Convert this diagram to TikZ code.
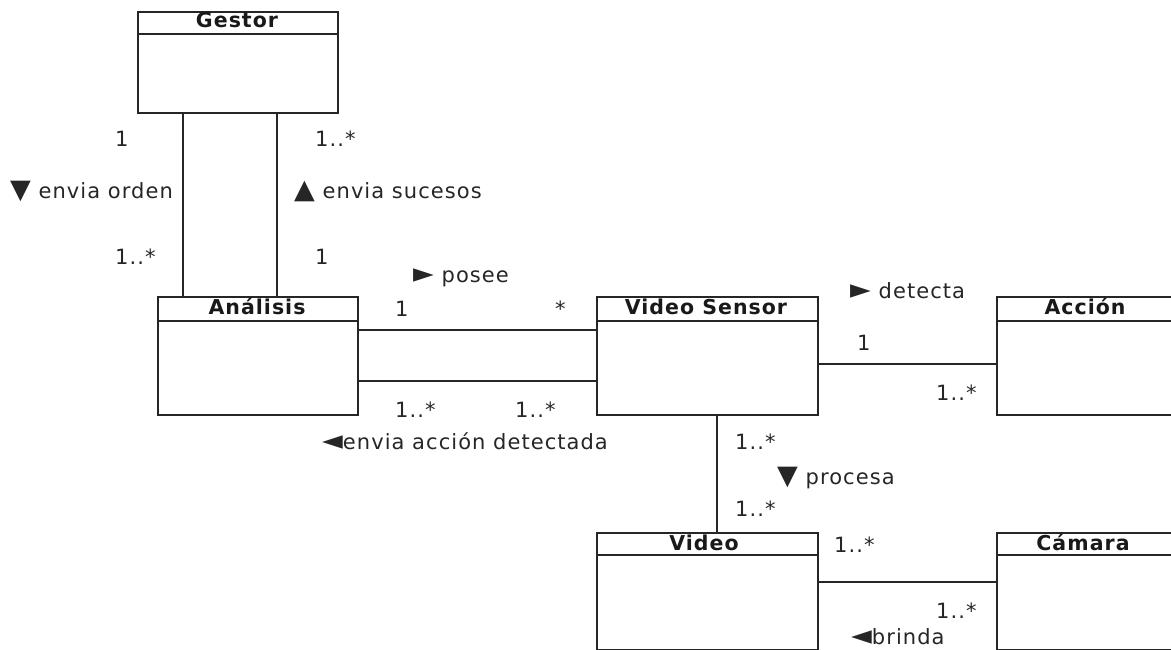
\documentclass[tikz,border=0pt]{standalone}
\usepackage{fontspec}
\setmainfont{DejaVu Sans}[LetterSpace=5]
\newcommand\bigtri[1]{{\fontsize{27}{27}\selectfont #1}}
\begin{document}
\begin{tikzpicture}[x=1pt,y=-1pt,
  classbox/.style={draw=black!85, line width=1.6pt, inner sep=0pt, anchor=north west, minimum height=117pt},
  hdr/.style={font=\fontsize{20.5}{24}\selectfont\bfseries, anchor=base, inner sep=0pt, text=black!90},
  lbl/.style={font=\fontsize{21}{24}\selectfont, anchor=base west, inner sep=0pt, text=black!85},
  conn/.style={line width=1.4pt, draw=black!85}]
\useasboundingbox (0,0) rectangle (1171,650);
\clip (0,0) rectangle (1171,650);

% class boxes
\node[classbox, minimum width=200pt, minimum height=101pt] (gestor) at (137,11) {};
\node[classbox, minimum width=200pt, minimum height=118pt] (analisis) at (157,296) {};
\node[classbox, minimum width=221pt, minimum height=118pt] (vs) at (596,296) {};
\node[classbox, minimum width=178pt, minimum height=118pt] (accion) at (996,296) {};
\node[classbox, minimum width=221pt, minimum height=117pt] (video) at (596,532) {};
\node[classbox, minimum width=178pt, minimum height=117pt] (camara) at (996,532) {};

% header dividers
\foreach \n/\d in {gestor/23, analisis/25, vs/25, accion/25, video/23, camara/23}
  \draw[conn, line width=1.6pt] ([yshift=-\d pt]\n.north west) -- ([yshift=-\d pt]\n.north east);

% header names
\node[hdr] (gestorT) at (237,28) {Gestor};
\node[hdr] (analisisT) at (257,314) {Análisis};
\node[hdr] (vsT) at (706,314) {Video Sensor};
\node[hdr] (accionT) at (1085,314) {Acción};
\node[hdr] (videoT) at (704,550) {Video};
\node[hdr] (camaraT) at (1083,550) {Cámara};

% connector reference coordinates
\coordinate (g1) at (183,0);
\coordinate (g2) at (277,0);
\coordinate (h1) at (0,330);
\coordinate (h2) at (0,381);
\coordinate (h3) at (0,364);
\coordinate (v1) at (717,0);
\coordinate (h4) at (0,582);

% connectors
\draw[conn] (gestor.south -| g1) -- (analisis.north -| g1);
\draw[conn] (gestor.south -| g2) -- (analisis.north -| g2);
\draw[conn] (analisis.east |- h1) -- (vs.west |- h1);
\draw[conn] (analisis.east |- h2) -- (vs.west |- h2);
\draw[conn] (vs.east |- h3) -- (accion.west |- h3);
\draw[conn] (vs.south -| v1) -- (video.north -| v1);
\draw[conn] (video.east |- h4) -- (camara.west |- h4);

% labels
\node[lbl] (m1) at (115,147) {1};
\node[lbl] (m2) at (315,147) {1..*};
\node[lbl] (a1) at (10,199) {\bigtri{▼} envia orden};
\node[lbl] (a2) at (294,199) {\bigtri{▲} envia sucesos};
\node[lbl] (m3) at (115,264) {1..*};
\node[lbl] (m4) at (315,264) {1};
\node[lbl] (a3) at (413,282) {\bigtri{►} posee};
\node[lbl] (m5) at (395,316) {1};
\node[lbl] (m6) at (555,316) {*};
\node[lbl] (m7) at (395,417) {1..*};
\node[lbl] (m8) at (515,417) {1..*};
\node[lbl] (a4) at (322,449) {\bigtri{◄}envia acción detectada};
\node[lbl] (a5) at (850,298) {\bigtri{►} detecta};
\node[lbl] (m9) at (857,350) {1};
\node[lbl] (m10) at (936,400) {1..*};
\node[lbl] (m11) at (735,449) {1..*};
\node[lbl] (a6) at (777,484) {\bigtri{▼} procesa};
\node[lbl] (m12) at (735,516) {1..*};
\node[lbl] (m13) at (834,552) {1..*};
\node[lbl] (m14) at (936,618) {1..*};
\node[lbl] (a7) at (851,644) {\bigtri{◄}brinda};
\end{tikzpicture}
\end{document}
